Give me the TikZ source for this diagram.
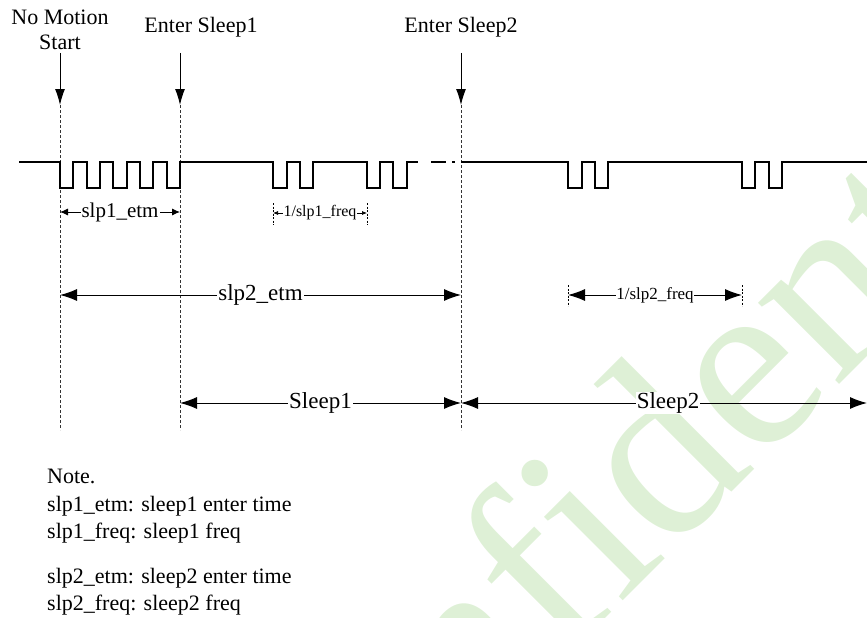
\documentclass[tikz,border=0pt]{standalone}
\usepackage{fontspec}
\setmainfont{Liberation Serif}
\usetikzlibrary{arrows.meta}
\definecolor{wm}{RGB}{222,240,214}
\begin{document}
\begin{tikzpicture}[x=1pt,y=-1pt,
  sig/.style={line width=1.3pt, line join=miter},
  vdash/.style={line width=0.8pt, dash pattern=on 3pt off 2pt, black!80},
  downarr/.style={line width=1pt, -{Latex[length=16pt,width=10pt]}},
  bigdim/.style={line width=1pt, {Latex[length=17pt,width=12pt]}-{Latex[length=17pt,width=12pt]}},
  smalldim/.style={line width=0.9pt, {Latex[length=8pt,width=7pt]}-{Latex[length=8pt,width=7pt]}},
  tinydim/.style={line width=0.7pt, {Latex[length=5pt,width=4pt]}-{Latex[length=5pt,width=4pt]}},
  tick/.style={line width=0.7pt, dash pattern=on 2pt off 1.5pt},
  lbl/.style={fill=white, inner sep=1pt, font=\fontsize{23}{27}\selectfont},
  lblm/.style={fill=white, inner sep=1pt, font=\fontsize{21}{25}\selectfont},
  lbls/.style={fill=white, inner sep=0.5pt, font=\fontsize{16}{19}\selectfont},
  toplbl/.style={align=center, inner sep=0pt, font=\fontsize{22}{25}\selectfont},
  note/.style={anchor=base west, inner sep=0pt, font=\fontsize{22}{26}\selectfont}
]
\useasboundingbox (0,0) rectangle (867,618);
% watermark
\begin{scope}
  \clip (0,0) rectangle (867,618);
  \node[rotate=45, anchor=base west, text=wm, inner sep=0pt,
        font=\fontsize{250}{250}\selectfont] (wmk) at (266,958) {Confidential};
\end{scope}

% time markers
\coordinate (a0) at (60,53);  \coordinate (m0) at (60,105);  \coordinate (e0) at (60,430);
\coordinate (a1) at (180,53); \coordinate (m1) at (180,105); \coordinate (e1) at (180,430);
\coordinate (a2) at (461,53); \coordinate (m2) at (461,105); \coordinate (e2) at (461,430);

\node[toplbl] (lnm) at (60,30) {No Motion\\Start};
\node[toplbl] (les1) at (201,27) {Enter Sleep1};
\node[toplbl] (les2) at (461,27) {Enter Sleep2};

\draw[downarr] (a0) -- (m0);
\draw[downarr] (a1) -- (m1);
\draw[downarr] (a2) -- (m2);
\draw[vdash] (m0) -- (e0);
\draw[vdash] (m1) -- (e1);
\draw[vdash] (m2) -- (e2);

% signal
\draw[sig] (19,162) -- (60,162) -- (60,188) -- (73,188) -- (73,162) -- (87,162) -- (87,188)
  -- (100,188) -- (100,162) -- (113,162) -- (113,188) -- (127,188) -- (127,162) -- (140,162)
  -- (140,188) -- (153,188) -- (153,162) -- (167,162) -- (167,188) -- (180,188) -- (180,162)
  -- (273,162) -- (273,188) -- (287,188) -- (287,162) -- (300,162) -- (300,188) -- (313,188)
  -- (313,162) -- (367,162) -- (367,188) -- (380,188) -- (380,162) -- (393,162) -- (393,188)
  -- (407,188) -- (407,162) -- (418,162);
\draw[sig] (431,162) -- (446,162);
\draw[sig] (452,162) -- (455,162);
\draw[sig] (461,162) -- (568,162) -- (568,188) -- (582,188) -- (582,162) -- (595,162)
  -- (595,188) -- (608,188) -- (608,162) -- (742,162) -- (742,188) -- (755,188) -- (755,162)
  -- (769,162) -- (769,188) -- (782,188) -- (782,162) -- (867,162);

% slp1_etm
\coordinate (s1a) at (60,212); \coordinate (s1b) at (180,212);
\draw[smalldim] (s1a) -- node[lblm] (ls1) {slp1\_etm} (s1b);

% 1/slp1_freq
\coordinate (f1ta) at (273,203); \coordinate (f1ba) at (273,225);
\coordinate (f1tb) at (367,203); \coordinate (f1bb) at (367,225);
\draw[tick] (f1ta) -- (f1ba);
\draw[tick] (f1tb) -- (f1bb);
\coordinate (f1a) at (273,213); \coordinate (f1b) at (367,213);
\draw[tinydim] (f1a) -- node[lbls] (lf1) {1/slp1\_freq} (f1b);

% slp2_etm
\coordinate (s2a) at (60,295); \coordinate (s2b) at (461,295);
\draw[bigdim] (s2a) -- node[lbl] (ls2) {slp2\_etm} (s2b);

% 1/slp2_freq
\coordinate (f2ta) at (568,285); \coordinate (f2ba) at (568,306);
\coordinate (f2tb) at (742,285); \coordinate (f2bb) at (742,306);
\draw[tick] (f2ta) -- (f2ba);
\draw[tick] (f2tb) -- (f2bb);
\coordinate (f2a) at (568,295); \coordinate (f2b) at (742,295);
\draw[bigdim] (f2a) -- node[lbls, font=\fontsize{17}{20}\selectfont] (lf2) {1/slp2\_freq} (f2b);

% Sleep1 / Sleep2
\coordinate (p1a) at (180,403); \coordinate (p1b) at (461,403); \coordinate (p2b) at (867,403);
\draw[bigdim] (p1a) -- node[lbl] (lsl1) {Sleep1} (p1b);
\draw[bigdim] (p1b) -- node[lbl, pos=0.51] (lsl2) {Sleep2} (p2b);

% notes
\node[note] (n0) at (47,483) {Note.};
\node[note] (n1) at (47,511) {slp1\_etm: sleep1 enter time};
\node[note] (n2) at (47,538) {slp1\_freq: sleep1 freq};
\node[note] (n3) at (47,583) {slp2\_etm: sleep2 enter time};
\node[note] (n4) at (47,610) {slp2\_freq: sleep2 freq};
\end{tikzpicture}
\end{document}
